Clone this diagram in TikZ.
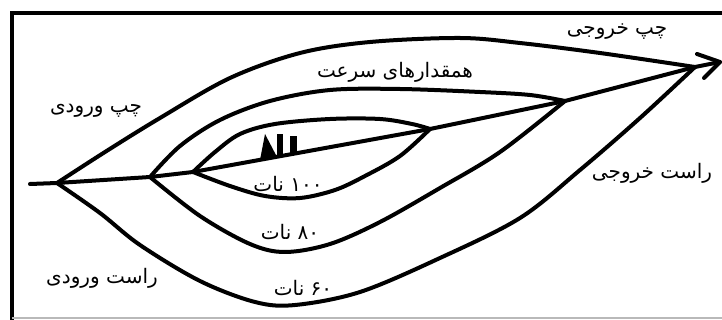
\documentclass[tikz,border=0pt]{standalone}
\usepackage{fontspec}
\TeXXeTstate=1
\newfontfamily\arabicfont[Script=Arabic]{DejaVu Sans}
\begin{document}
\begin{tikzpicture}[x=1pt,y=-1pt,
  curve/.style={line width=4pt, line cap=round, line join=round},
  frameline/.style={line width=3.6pt},
  lbl/.style={font=\arabicfont\fontsize{20}{22}\selectfont, inner sep=0pt}]
\useasboundingbox (0,0) rectangle (722,320);
\fill[white] (0,0) rectangle (722,320);
% frame
\draw[frameline] (10.2,13) -- (722,13);
\draw[frameline] (12,11.2) -- (12,320);
\draw[gray!55, line width=1.2pt] (12,318) -- (722,318);
% junctions
\coordinate (S) at (30,184);
\coordinate (J1) at (57,183);
\coordinate (J2) at (150,177);
\coordinate (J3) at (193,172);
\coordinate (K3) at (430,129);
\coordinate (K2) at (565,101);
\coordinate (K1) at (695,67);
\coordinate (T) at (720,62);
\coordinate (B1) at (697,54);
\coordinate (B2) at (704,78);
% trunk
\draw[curve] (S) -- (J1) -- (J2) -- (J3) -- (K3) -- (K2) -- (K1) -- (T);
\draw[curve] (B1) -- (T) -- (B2);
% upper curves
\draw[curve] plot[smooth, tension=0.55] coordinates {(J1) (105,152) (160,118) (230,78) (300,53) (370,42) (460,38) (520,43) (600,53) (K1)};
\draw[curve] plot[smooth, tension=0.55] coordinates {(J2) (180,146) (220,120) (270,101) (330,90) (400,89) (480,92) (530,95) (K2)};
\draw[curve] plot[smooth, tension=0.55] coordinates {(J3) (215,152) (240,134) (275,124) (330,119) (380,119) (412,124) (K3)};
% lower curves
\draw[curve] plot[smooth, tension=0.55] coordinates {(J3) (230,186) (265,196) (300,198) (335,190) (365,176) (400,156) (K3)};
\draw[curve] plot[smooth, tension=0.55] coordinates {(J2) (200,216) (250,244) (285,252) (330,244) (380,222) (440,188) (500,152) (K2)};
\draw[curve] plot[smooth, tension=0.55] coordinates {(J1) (100,213) (140,245) (200,281) (255,302) (295,305) (360,292) (440,258) (520,218) (580,170) (640,118) (K1)};
% spike
\fill (260,160) -- (265,134) -- (277,157) -- cycle;
\fill (277,134) rectangle (283,157);
\fill (290,136) rectangle (297,155);
% labels
\node[lbl] (l1) at (617,32) {\beginR چپ خروجی\endR};
\node[lbl] (l2) at (395,72) {\beginR همقدارهای سرعت\endR};
\node[lbl] (l3) at (96,111) {\beginR چپ ورودی\endR};
\node[lbl] (l4) at (652,173) {\beginR راست خروجی\endR};
\node[lbl] (l5) at (288,184) {\beginR\beginL ۱۰۰\endL{} نات\endR};
\node[lbl] (l6) at (290,232) {\beginR\beginL ۸۰\endL{} نات\endR};
\node[lbl] (l7) at (102,278) {\beginR راست ورودی\endR};
\node[lbl] (l8) at (303,288) {\beginR\beginL ۶۰\endL{} نات\endR};
\end{tikzpicture}
\end{document}
